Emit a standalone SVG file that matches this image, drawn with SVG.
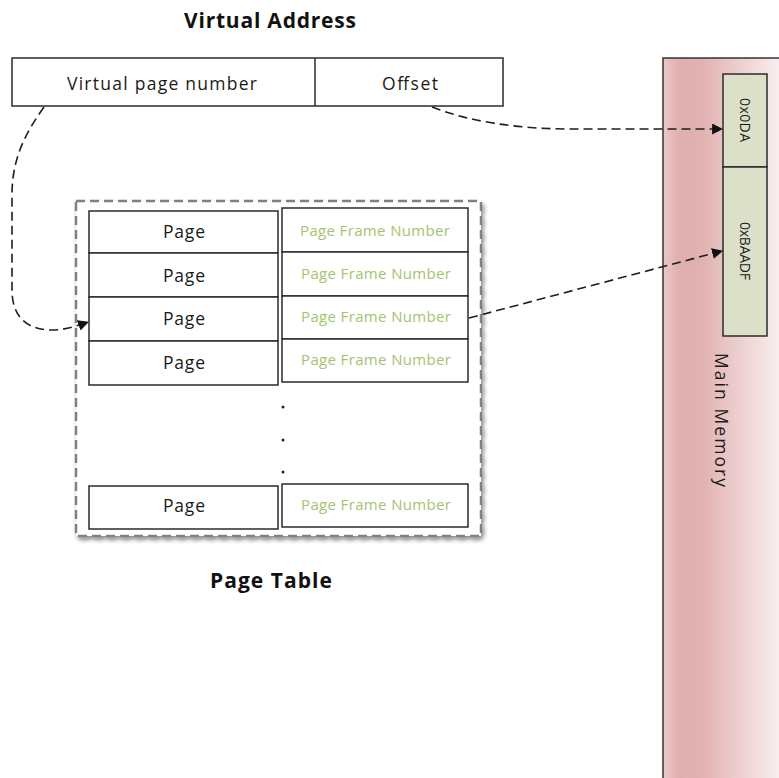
<svg xmlns="http://www.w3.org/2000/svg" width="779" height="778" viewBox="0 0 779 778">
<defs>
<linearGradient id="memGrad" gradientUnits="userSpaceOnUse" x1="663" y1="0" x2="779" y2="0">
<stop offset="0" stop-color="#ebc8c8"/>
<stop offset="0.15" stop-color="#dfadad"/>
<stop offset="0.35" stop-color="#e2b3b3"/>
<stop offset="0.6" stop-color="#ebcaca"/>
<stop offset="1" stop-color="#f8eeee"/>
</linearGradient>
<filter id="shadow" x="-5%" y="-5%" width="115%" height="115%">
<feGaussianBlur in="SourceAlpha" stdDeviation="2"/>
<feOffset dx="2" dy="3" result="b"/>
<feComponentTransfer><feFuncA type="linear" slope="0.45"/></feComponentTransfer>
<feMerge><feMergeNode/><feMergeNode in="SourceGraphic"/></feMerge>
</filter>
<marker id="arrow" viewBox="0 0 10 10" refX="9" refY="5" markerWidth="11" markerHeight="11" markerUnits="userSpaceOnUse" orient="auto">
<path d="M0,0 L10,5 L0,10 Z" fill="#111"/>
</marker>
</defs>
<style>
.title{font-family:"Open Sans","Liberation Sans",sans-serif;font-weight:bold;font-size:21px;fill:#111;text-anchor:middle}
.lbl{font-family:"Open Sans","Liberation Sans",sans-serif;font-size:17.5px;fill:#1a1a1a;text-anchor:middle}
.pfn{font-family:"Open Sans","Liberation Sans",sans-serif;font-size:15px;fill:#a6c36f;text-anchor:middle}
.cell{fill:#ffffff;stroke:#2b2b2b;stroke-width:1.5}
.mcell{fill:#dce0c9;stroke:#2b2b2b;stroke-width:1.5}
.mtxt{font-family:"Open Sans","Liberation Sans",sans-serif;font-size:14px;fill:#1a1a1a;text-anchor:middle;dominant-baseline:central}
.conn{fill:none;stroke:#1e1e1e;stroke-width:1.6;stroke-dasharray:9 5}
</style>

<g id="main-memory">
<rect x="663" y="58" width="130" height="740" fill="url(#memGrad)" stroke="#333" stroke-width="1.5"/>
<text class="lbl" transform="translate(722,420) rotate(90)" dominant-baseline="central" textLength="134" lengthAdjust="spacing">Main Memory</text>
</g>
<g id="mem-0x0DA">
<rect class="mcell" x="723" y="74" width="44" height="93"/>
<text class="mtxt" transform="translate(745,120) rotate(90)" textLength="44" lengthAdjust="spacing">0x0DA</text>
</g>
<g id="mem-0xBAADF">
<rect class="mcell" x="723" y="167" width="44" height="169"/>
<text class="mtxt" transform="translate(745,251) rotate(90)" textLength="58" lengthAdjust="spacing">0xBAADF</text>
</g>

<g id="virtual-address">
<text class="title" x="270" y="28" textLength="172" lengthAdjust="spacing">Virtual Address</text>
<rect class="cell" x="12" y="58" width="491" height="48"/>
<line x1="315" y1="58" x2="315" y2="106" stroke="#2b2b2b" stroke-width="1.5"/>
<text class="lbl" x="162" y="90" textLength="190" lengthAdjust="spacing">Virtual page number</text>
<text class="lbl" x="410" y="90" textLength="56" lengthAdjust="spacing">Offset</text>
</g>

<g id="page-table">
<rect x="76" y="201" width="405" height="335" fill="#ffffff" stroke="#808080" stroke-width="2.5" stroke-dasharray="9 5" filter="url(#shadow)"/>
<rect class="cell" x="89" y="211" width="189" height="42"/>
<rect class="cell" x="89" y="253" width="189" height="44"/>
<rect class="cell" x="89" y="297" width="189" height="44"/>
<rect class="cell" x="89" y="341" width="189" height="44"/>
<rect class="cell" x="89" y="486" width="189" height="43"/>
<rect class="cell" x="282" y="208" width="186" height="44"/>
<rect class="cell" x="282" y="252" width="186" height="44"/>
<rect class="cell" x="282" y="296" width="186" height="43"/>
<rect class="cell" x="282" y="339" width="186" height="43"/>
<rect class="cell" x="282" y="484" width="186" height="43"/>
<text class="lbl" x="184" y="238" textLength="42" lengthAdjust="spacing">Page</text>
<text class="lbl" x="184" y="282" textLength="42" lengthAdjust="spacing">Page</text>
<text class="lbl" x="184" y="325" textLength="42" lengthAdjust="spacing">Page</text>
<text class="lbl" x="184" y="369" textLength="42" lengthAdjust="spacing">Page</text>
<text class="lbl" x="184" y="512" textLength="42" lengthAdjust="spacing">Page</text>
<text class="pfn" x="375" y="236" textLength="150" lengthAdjust="spacing">Page Frame Number</text>
<text class="pfn" x="376" y="279" textLength="150" lengthAdjust="spacing">Page Frame Number</text>
<text class="pfn" x="376" y="322" textLength="150" lengthAdjust="spacing">Page Frame Number</text>
<text class="pfn" x="376" y="365" textLength="150" lengthAdjust="spacing">Page Frame Number</text>
<text class="pfn" x="376" y="510" textLength="150" lengthAdjust="spacing">Page Frame Number</text>
<circle cx="283" cy="407" r="1.5" fill="#222"/>
<circle cx="283" cy="440" r="1.5" fill="#222"/>
<circle cx="283" cy="472" r="1.5" fill="#222"/>
<text class="title" x="271" y="588" textLength="122" lengthAdjust="spacing">Page Table</text>
</g>

<g id="connectors">
<path class="conn" d="M44,107 C24,135 12,160 12,195 L12,290 C12,318 28,330 52,330 C64,330 74,327 88,322" marker-end="url(#arrow)"/>
<path class="conn" d="M432,107 C470,122 520,129 570,129 L722,129" marker-end="url(#arrow)"/>
<path class="conn" d="M469,318 L722,251" marker-end="url(#arrow)"/>
</g>
</svg>
